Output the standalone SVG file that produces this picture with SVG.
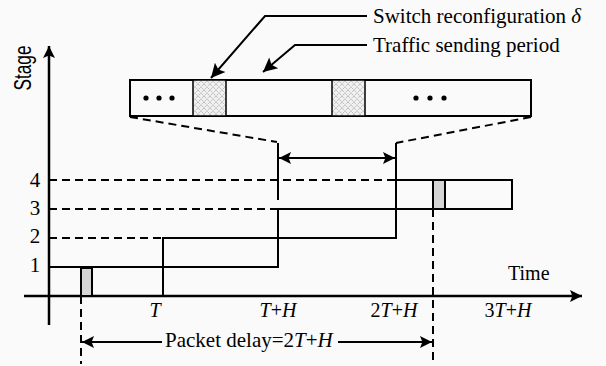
<svg xmlns="http://www.w3.org/2000/svg" width="606" height="366" viewBox="0 0 606 366">
<defs>
<style>
.ln{stroke:#000;stroke-width:2;fill:none}
.ax{stroke:#000;stroke-width:2.5;fill:none}
.dash{stroke:#000;stroke-width:2;fill:none;stroke-dasharray:8 5}
.box{stroke:#000;stroke-width:2;fill:none}
.pkt{fill:#d4d4d4;stroke:#000;stroke-width:2}
.hat{fill:url(#hatch);stroke:#000;stroke-width:1.5}
</style>
<pattern id="hatch" width="6" height="6" patternUnits="userSpaceOnUse">
<rect width="6" height="6" fill="#f0f0f0"/>
<path d="M0,0L6,6M6,0L0,6" stroke="#999" stroke-width="0.8" stroke-dasharray="1 1"/>
</pattern>
<marker id="ahb" viewBox="0 0 10 10" refX="10" refY="5" markerWidth="14" markerHeight="12" orient="auto-start-reverse" markerUnits="userSpaceOnUse">
<path d="M0,0L10,5L0,10L2,5z" fill="#000"/>
</marker>
<marker id="ahl" viewBox="0 0 10 10" refX="10" refY="5" markerWidth="20" markerHeight="14" orient="auto" markerUnits="userSpaceOnUse">
<path d="M0,0L10,5L0,10L2,5z" fill="#000"/>
</marker>
</defs>
<rect width="606" height="366" fill="#fafafa"/>

<g id="axes" font-family="'Liberation Serif', 'Times New Roman', serif" font-size="20" fill="#000">
<line class="ax" x1="49" y1="325" x2="49" y2="46" marker-end="url(#ahb)"/>
<line class="ax" x1="24" y1="296" x2="582" y2="296" marker-end="url(#ahb)"/>
<text transform="translate(31,68) rotate(-90) scale(0.75,1)" text-anchor="middle" font-family="'Liberation Sans', Arial, sans-serif" font-size="23">Stage</text>
<text x="508" y="280">Time</text>
<text x="35" y="272" text-anchor="middle" font-size="21">1</text>
<text x="35" y="243" text-anchor="middle" font-size="21">2</text>
<text x="35" y="215" text-anchor="middle" font-size="21">3</text>
<text x="35" y="187" text-anchor="middle" font-size="21">4</text>
<text x="155" y="317" text-anchor="middle" font-style="italic">T</text>
<text x="278" y="317" text-anchor="middle"><tspan font-style="italic">T</tspan>+<tspan font-style="italic">H</tspan></text>
<text x="394" y="317" text-anchor="middle">2<tspan font-style="italic">T</tspan>+<tspan font-style="italic">H</tspan></text>
<text x="508" y="317" text-anchor="middle">3<tspan font-style="italic">T</tspan>+<tspan font-style="italic">H</tspan></text>
</g>

<g id="stage1">
<rect class="box" x="49" y="267" width="114" height="29"/>
<rect class="pkt" x="81" y="268" width="11" height="28"/>
</g>
<g id="stage2">
<rect class="box" x="163" y="238" width="115" height="29"/>
</g>
<g id="stage3">
<rect class="box" x="278" y="209" width="118" height="29"/>
</g>
<g id="stage4">
<rect class="box" x="396" y="180" width="116" height="29"/>
<rect class="pkt" x="433" y="180" width="12" height="29"/>
</g>

<g id="bar">
<rect class="box" x="130" y="80" width="401" height="36"/>
<rect class="hat" x="193" y="80" width="33" height="36"/>
<rect class="hat" x="332" y="80" width="33" height="36"/>
<circle cx="146" cy="98" r="2.6"/>
<circle cx="159" cy="98" r="2.6"/>
<circle cx="172" cy="98" r="2.6"/>
<circle cx="416" cy="98" r="2.6"/>
<circle cx="430" cy="98" r="2.6"/>
<circle cx="444" cy="98" r="2.6"/>
</g>

<g id="labels" font-family="'Liberation Serif', 'Times New Roman', serif" font-size="21" fill="#000">
<text x="373" y="23">Switch reconfiguration <tspan font-style="italic">δ</tspan></text>
<text x="373" y="52">Traffic sending period</text>
<text x="165" y="347">Packet delay=2<tspan font-style="italic">T</tspan>+<tspan font-style="italic">H</tspan></text>
</g>

<g id="connectors">
<line class="dash" x1="49" y1="180" x2="396" y2="180"/>
<line class="dash" x1="49" y1="209" x2="278" y2="209"/>
<line class="dash" x1="49" y1="238" x2="163" y2="238"/>
<line class="dash" x1="130" y1="117" x2="277" y2="142"/>
<line class="dash" x1="531" y1="117" x2="396" y2="143"/>
<line class="ln" x1="278" y1="143" x2="278" y2="200"/>
<line class="ln" x1="396" y1="143" x2="396" y2="180"/>
<line class="ln" x1="279" y1="158" x2="395" y2="158" marker-start="url(#ahb)" marker-end="url(#ahb)"/>
<line class="dash" x1="81" y1="296" x2="81" y2="364"/>
<line class="dash" x1="433" y1="209" x2="433" y2="364"/>
<line class="ln" x1="162" y1="342" x2="82" y2="342" marker-end="url(#ahb)"/>
<line class="ln" x1="338" y1="342" x2="432" y2="342" marker-end="url(#ahb)"/>
<polyline class="ln" points="367,16 265,16 211,78" stroke-width="2.5" marker-end="url(#ahl)"/>
<polyline class="ln" points="367,45 295,45 263,72" stroke-width="2.5" marker-end="url(#ahl)"/>
</g>
</svg>
